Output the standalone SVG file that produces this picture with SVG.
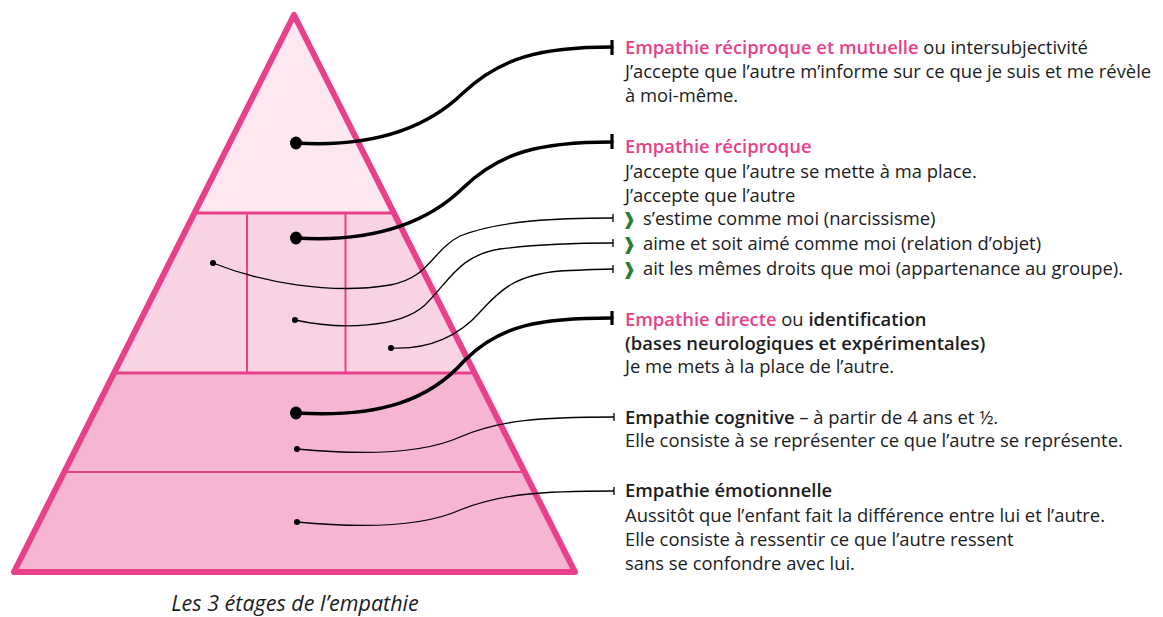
<svg xmlns="http://www.w3.org/2000/svg" width="1163" height="617" viewBox="0 0 1163 617">
<defs>
<style>
.t{font-family:"Open Sans","Noto Sans","Liberation Sans",sans-serif;font-size:18.4px;fill:#1b1b22}
.b{font-weight:600}
.p{fill:#e8408a;font-weight:600}
.g{fill:#2f7d32;font-family:"DejaVu Sans",sans-serif;font-size:17px;font-weight:bold}
.cap{font-family:"Open Sans","Noto Sans","Liberation Sans",sans-serif;font-style:italic;font-size:21.5px;font-weight:500;fill:#1b1b22}
.thick{fill:none;stroke:#000;stroke-width:3.5;stroke-linecap:round}
.thin{fill:none;stroke:#000;stroke-width:1.3}
.bar{stroke:#000;stroke-width:3.2}
.sbar{stroke:#000;stroke-width:1.3}
.ln{stroke:#e8408a}
</style>
<clipPath id="tri"><polygon points="294,15 14,572 575,572"/></clipPath>
</defs>
<rect width="1163" height="617" fill="#fff"/>
<g id="pyramid">
<g clip-path="url(#tri)">
<rect id="tier-top" x="0" y="0" width="600" height="213" fill="#fde8f2"/>
<rect id="tier-middle" x="0" y="213" width="600" height="160" fill="#f9d2e4"/>
<rect id="tier-bottom" x="0" y="373" width="600" height="210" fill="#f5b5d3"/>
<line class="ln" x1="0" y1="213" x2="600" y2="213" stroke-width="3"/>
<line class="ln" x1="247" y1="213" x2="247" y2="373" stroke-width="2"/>
<line class="ln" x1="345.5" y1="213" x2="345.5" y2="373" stroke-width="2"/>
<line class="ln" x1="0" y1="373" x2="600" y2="373" stroke-width="3.2"/>
<line class="ln" x1="0" y1="472" x2="600" y2="472" stroke-width="2.2"/>
</g>
<polygon points="294,15 14,572 575,572" fill="none" stroke="#e8408a" stroke-width="6" stroke-linejoin="round"/>
</g>
<g id="connectors">
<path class="thick" d="M296,143 C380,148 430,125 463,93 C500,58 540,47 612,47"/>
<ellipse cx="296" cy="143" rx="6" ry="6.5"/>
<line class="bar" x1="612" y1="40" x2="612" y2="55"/>
<path class="thick" d="M296,238 C380,243 430,220 463,188 C500,152 540,142 612,142"/>
<ellipse cx="296" cy="238" rx="6" ry="6.5"/>
<line class="bar" x1="612" y1="134" x2="612" y2="149"/>
<path class="thin" d="M213,263 C260,282 330,295 390,285 C430,278 432,250 460,236 C500,220 560,218 613,218"/>
<circle cx="213" cy="263" r="3"/>
<line class="sbar" x1="613" y1="214" x2="613" y2="222"/>
<path class="thin" d="M295,320 C340,330 400,328 425,305 C450,280 460,255 500,249 C540,244 580,243 613,243"/>
<circle cx="295" cy="320" r="3"/>
<line class="sbar" x1="613" y1="239" x2="613" y2="247"/>
<path class="thin" d="M391,348 C430,350 460,335 480,312 C500,290 515,275 560,271 C580,270 600,269 613,269"/>
<circle cx="391" cy="348" r="3"/>
<line class="sbar" x1="613" y1="265" x2="613" y2="273"/>
<path class="thick" d="M296,413 C380,418 430,400 465,360 C500,325 540,318 612,318"/>
<ellipse cx="296" cy="413" rx="6" ry="6.5"/>
<line class="bar" x1="612" y1="311" x2="612" y2="325"/>
<path class="thin" d="M297,449 C360,455 420,455 460,437 C500,420 540,417 614,417"/>
<circle cx="297" cy="449" r="3"/>
<line class="sbar" x1="614" y1="413" x2="614" y2="421"/>
<path class="thin" d="M297,522 C360,528 420,528 460,510 C500,494 540,491 614,491"/>
<circle cx="297" cy="522" r="3"/>
<line class="sbar" x1="614" y1="487" x2="614" y2="495"/>
</g>
<g id="label-mutuelle">
<text class="t" x="625" y="54"><tspan class="p">Empathie réciproque et mutuelle</tspan> ou intersubjectivité</text>
<text class="t" x="625" y="78">J’accepte que l’autre m’informe sur ce que je suis et me révèle</text>
<text class="t" x="625" y="102">à moi-même.</text>
</g>
<g id="label-reciproque">
<text class="t" x="625" y="153"><tspan class="p">Empathie réciproque</tspan></text>
<text class="t" x="625" y="178">J’accepte que l’autre se mette à ma place.</text>
<text class="t" x="625" y="202">J’accepte que l’autre</text>
</g>
<g id="label-narcissisme">
<text class="g" x="622" y="225">❱</text>
<text class="t" x="643" y="225">s’estime comme moi (narcissisme)</text>
</g>
<g id="label-objet">
<text class="g" x="622" y="250">❱</text>
<text class="t" x="643" y="250">aime et soit aimé comme moi (relation d’objet)</text>
</g>
<g id="label-groupe">
<text class="g" x="622" y="275">❱</text>
<text class="t" x="643" y="275">ait les mêmes droits que moi (appartenance au groupe).</text>
</g>
<g id="label-directe">
<text class="t" x="625" y="326"><tspan class="p">Empathie directe</tspan> ou <tspan class="b">identification</tspan></text>
<text class="t b" x="625" y="350">(bases neurologiques et expérimentales)</text>
<text class="t" x="625" y="373">Je me mets à la place de l’autre.</text>
</g>
<g id="label-cognitive">
<text class="t" x="625" y="424"><tspan class="b">Empathie cognitive</tspan> – à partir de 4 ans et ½.</text>
<text class="t" x="625" y="447">Elle consiste à se représenter ce que l’autre se représente.</text>
</g>
<g id="label-emotionnelle">
<text class="t b" x="625" y="497">Empathie émotionnelle</text>
<text class="t" x="625" y="522">Aussitôt que l’enfant fait la différence entre lui et l’autre.</text>
<text class="t" x="625" y="546">Elle consiste à ressentir ce que l’autre ressent</text>
<text class="t" x="625" y="570">sans se confondre avec lui.</text>
</g>
<g id="caption">
<text class="cap" x="295" y="611" text-anchor="middle">Les 3 étages de l’empathie</text>
</g>
</svg>
